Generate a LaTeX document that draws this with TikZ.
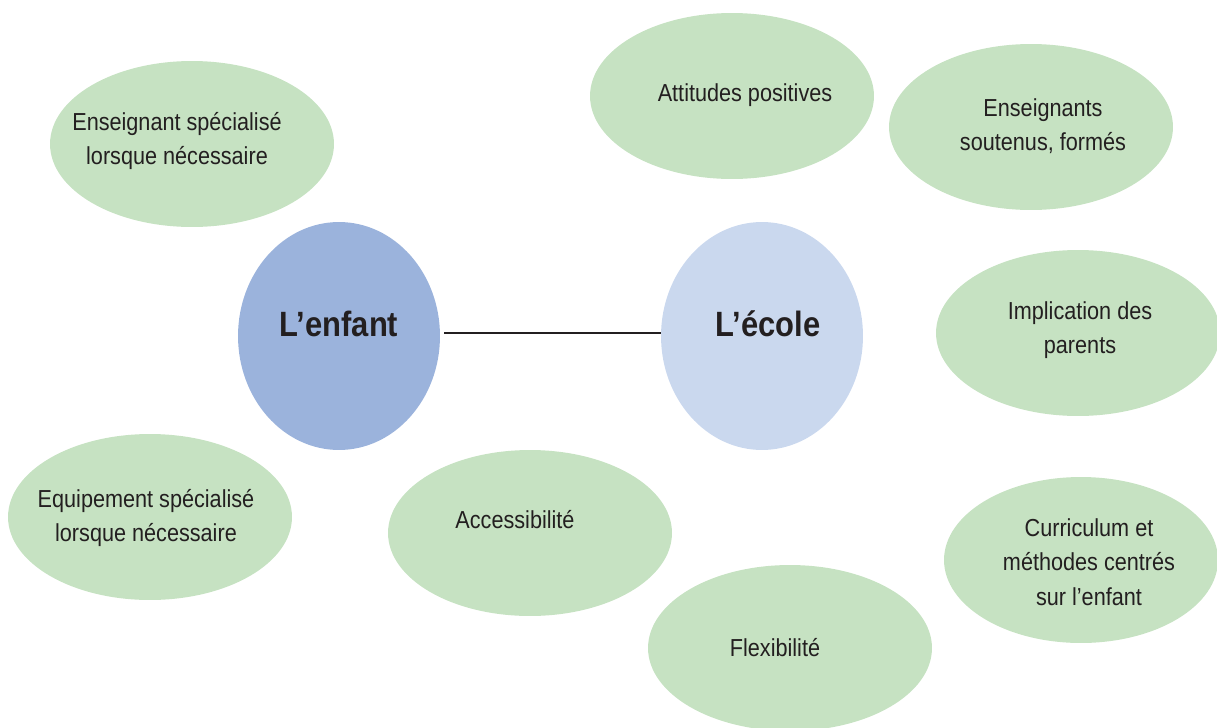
\documentclass[tikz,border=0pt]{standalone}
\usepackage{fontspec}
\setmainfont{Liberation Sans}[FakeStretch=0.88]
\usepackage{xcolor}
\usetikzlibrary{shapes.geometric, calc}

\definecolor{leafgreen}{HTML}{C6E2C2}
\definecolor{childblue}{HTML}{9BB3DC}
\definecolor{schoolblue}{HTML}{CAD8EE}
\definecolor{inktext}{HTML}{231F20}

\begin{document}
\begin{tikzpicture}[
  x=0.02cm, y=-0.02cm,
  bubble/.style = {ellipse, fill=leafgreen, inner sep=0pt,
                   minimum width=5.68cm, minimum height=3.32cm},
  hub/.style    = {ellipse, inner sep=0pt,
                   minimum width=4.04cm, minimum height=4.56cm},
  txt/.style    = {align=center, text=inktext, inner sep=0pt,
                   font=\fontsize{14pt}{19.5pt}\selectfont},
  hubtxt/.style = {text=inktext, inner sep=0pt,
                   font=\fontsize{20pt}{22pt}\selectfont\bfseries},
  link/.style   = {line width=1.4pt, draw=inktext},
]
\useasboundingbox (0,0) rectangle (1217,727);
\clip (0,0) rectangle (1217,727);

% the two centres
\node[hub, fill=childblue]  (enfant) at (339,336) {};
\node[hub, fill=schoolblue] (ecole)  at (762,336) {};
\node[hubtxt] (enfant-t) at ($(enfant)+(0,-12)$) {L’enfant};
\node[hubtxt] (ecole-t)  at ($(ecole)+(6,-12)$)  {L’école};

\draw[link, shorten <=0.08cm] (enfant.east |- 0,333) -- (ecole.west |- 0,333);

% surrounding factors
\node[bubble] (specens) at (192,144)  {};
\node[bubble] (attit)   at (732,96)   {};
\node[bubble] (soutenu) at (1031,127) {};
\node[bubble] (parents) at (1078,333) {};
\node[bubble] (equip)   at (150,517)  {};
\node[bubble] (access)  at (530,533)  {};
\node[bubble, minimum width=5.48cm] (curric) at (1081,560) {};
\node[bubble] (flex)    at (790,648)  {};

\node[txt] (specens-t) at ($(specens)+(-15,-3)$) {Enseignant spécialisé\\lorsque nécessaire};
\node[txt] (attit-t)   at ($(attit)+(13,-1)$)    {Attitudes positives};
\node[txt] (soutenu-t) at ($(soutenu)+(12,-1)$)  {Enseignants\\soutenus, formés};
\node[txt] (parents-t) at ($(parents)+(2,-3)$)   {Implication des\\parents};
\node[txt] (equip-t)   at ($(equip)+(-4,1)$)     {Equipement spécialisé\\lorsque nécessaire};
\node[txt] (access-t)  at ($(access)+(-15,-13)$) {Accessibilité};
\node[txt] (curric-t)  at ($(curric)+(8,2)$)     {Curriculum et\\méthodes centrés\\sur l’enfant};
\node[txt] (flex-t)    at ($(flex)+(-15,0)$)     {Flexibilité};

\end{tikzpicture}
\end{document}
